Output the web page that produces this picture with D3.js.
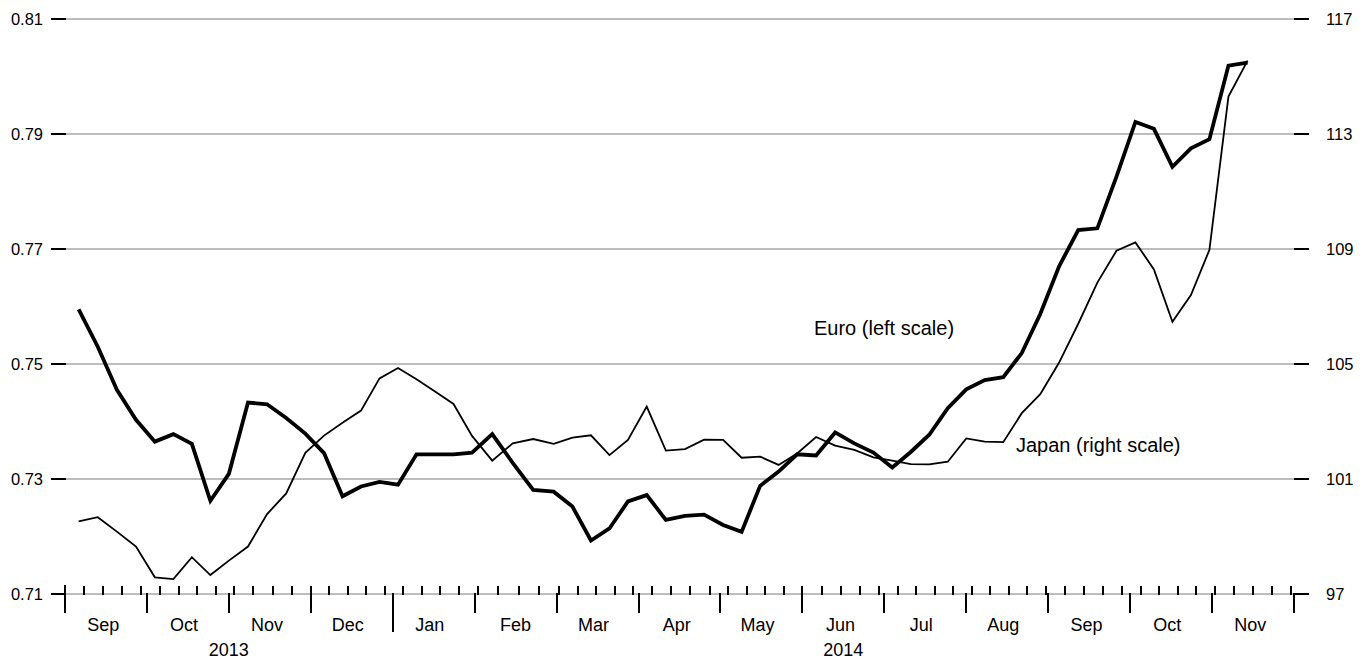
<!DOCTYPE html>
<html>
<head>
<meta charset="utf-8">
<script src="https://cdn.jsdelivr.net/npm/d3@7"></script>
<style>
  html, body { margin: 0; padding: 0; background: #fff; }
  svg { display: block; font-family: "Liberation Sans", Arial, Helvetica, sans-serif; }
</style>
</head>
<body>
<svg id="chart" width="1372" height="660"></svg>
<script>
// ---- data (weekly, Fridays) ----
const firstWeek = new Date(2013, 8, 6);
const lastWeek = new Date(2014, 10, 14);
const euroValues = [
  0.7595, 0.7530, 0.7455, 0.7403, 0.7365, 0.7378, 0.7361, 0.7262, 0.7309, 0.7433,
  0.7430, 0.7406, 0.7379, 0.7345, 0.7270, 0.7287, 0.7295, 0.7290, 0.7343, 0.7343,
  0.7343, 0.7346, 0.7378, 0.7328, 0.7281, 0.7278, 0.7252, 0.7193, 0.7214, 0.7261,
  0.7272, 0.7229, 0.7236, 0.7238, 0.7220, 0.7208, 0.7288, 0.7313, 0.7343, 0.7341,
  0.7381, 0.7362, 0.7346, 0.7320, 0.7347, 0.7377, 0.7423, 0.7456, 0.7472, 0.7477,
  0.7519, 0.7587, 0.7670, 0.7733, 0.7736, 0.7826, 0.7921, 0.7909, 0.7843, 0.7875,
  0.7891, 0.8019, 0.8024
];
const japanValues = [
  99.53, 99.67, 99.17, 98.65, 97.58, 97.52, 98.28, 97.66, 98.16, 98.65,
  99.78, 100.50, 101.91, 102.51, 102.96, 103.38, 104.50, 104.86, 104.47, 104.04,
  103.61, 102.50, 101.64, 102.24, 102.39, 102.22, 102.44, 102.52, 101.83, 102.36,
  103.52, 101.99, 102.04, 102.37, 102.36, 101.74, 101.78, 101.49, 101.89, 102.46,
  102.16, 102.01, 101.75, 101.64, 101.52, 101.51, 101.60, 102.41, 102.30, 102.28,
  103.29, 103.95, 105.05, 106.40, 107.83, 108.94, 109.23, 108.29, 106.47, 107.40,
  108.97, 114.30, 115.55
];
const leftTicks = [0.71, 0.73, 0.75, 0.77, 0.79, 0.81];
const rightTicks = [97, 101, 105, 109, 113, 117];
const leftTickLabels = ["0.71", "0.73", "0.75", "0.77", "0.79", "0.81"];
const rightTickLabels = ["97", "101", "105", "109", "113", "117"];
const monthNames = ["Jan","Feb","Mar","Apr","May","Jun","Jul","Aug","Sep","Oct","Nov","Dec"];
const yearLabels = ["2013", "2014"];
const axisStart = new Date(2013, 8, 1);
const axisEnd = new Date(2014, 11, 1);
const seriesLabels = ["Euro (left scale)", "Japan (right scale)"];

// ---- layout ----
const W = 1372, H = 660;
const plotLeft = 65, plotRight = 1294, plotTop = 19, plotBottom = 594;

const svg = d3.select("#chart");

const weeks = d3.timeFriday.range(firstWeek, d3.timeDay.offset(lastWeek, 1));
const monthStarts = d3.timeMonth.range(axisStart, d3.timeDay.offset(axisEnd, 1));

// equal-width months (polylinear time scale)
const x = d3.scaleTime()
  .domain(monthStarts)
  .range(monthStarts.map((d, i) => plotLeft + i * (plotRight - plotLeft) / (monthStarts.length - 1)));

const yL = d3.scaleLinear().domain([0.71, 0.81]).range([plotBottom, plotTop]);
const yR = d3.scaleLinear().domain([97, 117]).range([plotBottom, plotTop]);

// gridlines
svg.append("g").selectAll("line").data(leftTicks).join("line")
  .attr("x1", plotLeft + 1).attr("x2", plotRight)
  .attr("y1", d => yL(d)).attr("y2", d => yL(d))
  .attr("stroke", "#bdbdbd").attr("stroke-width", 2)
  .attr("shape-rendering", "crispEdges");

// left axis ticks + labels
const gl = svg.append("g");
gl.selectAll("line").data(leftTicks).join("line")
  .attr("x1", plotLeft - 14).attr("x2", plotLeft + 1)
  .attr("y1", d => yL(d)).attr("y2", d => yL(d))
  .attr("stroke", "#000").attr("stroke-width", 2)
  .attr("shape-rendering", "crispEdges");
gl.selectAll("text").data(leftTicks).join("text")
  .attr("x", plotLeft - 22).attr("y", d => yL(d)).attr("dy", "0.36em")
  .attr("text-anchor", "end").attr("font-size", 16.5)
  .text((d, i) => leftTickLabels[i]);

// right axis ticks + labels
const gr = svg.append("g");
gr.selectAll("line").data(rightTicks).join("line")
  .attr("x1", plotRight).attr("x2", plotRight + 15)
  .attr("y1", d => yR(d)).attr("y2", d => yR(d))
  .attr("stroke", "#000").attr("stroke-width", 2)
  .attr("shape-rendering", "crispEdges");
gr.selectAll("text").data(rightTicks).join("text")
  .attr("x", plotRight + 32).attr("y", d => yR(d)).attr("dy", "0.36em")
  .attr("text-anchor", "start").attr("font-size", 16.5)
  .text((d, i) => rightTickLabels[i]);

// x axis: weekly minor ticks (Sundays)
const sundays = d3.timeSunday.range(axisStart, axisEnd);
svg.append("g").selectAll("line").data(sundays).join("line")
  .attr("x1", d => x(d)).attr("x2", d => x(d))
  .attr("y1", plotBottom + 1).attr("y2", plotBottom - 8)
  .attr("stroke", "#000").attr("stroke-width", 2)
  .attr("shape-rendering", "crispEdges");

// month ticks
svg.append("g").selectAll("line").data(monthStarts).join("line")
  .attr("x1", d => x(d)).attr("x2", d => x(d))
  .attr("y1", plotBottom - 1)
  .attr("y2", d => (d.getMonth() === 0 ? 632 : 613))
  .attr("stroke", "#000").attr("stroke-width", 2)
  .attr("shape-rendering", "crispEdges");
svg.append("line")
  .attr("x1", x(axisStart)).attr("x2", x(axisStart))
  .attr("y1", plotBottom - 9).attr("y2", plotBottom)
  .attr("stroke", "#000").attr("stroke-width", 2)
  .attr("shape-rendering", "crispEdges");

// month labels at the 15th
const monthMid = monthStarts.slice(0, -1).map(d => new Date(d.getFullYear(), d.getMonth(), 15));
svg.append("g").selectAll("text").data(monthMid).join("text")
  .attr("x", d => x(d)).attr("y", 631)
  .attr("text-anchor", "middle").attr("font-size", 18)
  .text(d => monthNames[d.getMonth()]);

// year labels
const yearBreak = new Date(2014, 0, 1);
const yearSpans = [[axisStart, yearBreak], [yearBreak, axisEnd]];
svg.append("g").selectAll("text").data(yearSpans).join("text")
  .attr("x", d => (x(d[0]) + x(d[1])) / 2).attr("y", 656)
  .attr("text-anchor", "middle").attr("font-size", 18)
  .text((d, i) => yearLabels[i]);

// lines
const japanLine = d3.line().x((d, i) => x(weeks[i])).y(d => yR(d));
const euroLine = d3.line().x((d, i) => x(weeks[i])).y(d => yL(d));

svg.append("path").datum(japanValues)
  .attr("d", japanLine).attr("fill", "none")
  .attr("stroke", "#000").attr("stroke-width", 1.8);
svg.append("path").datum(euroValues)
  .attr("d", euroLine).attr("fill", "none")
  .attr("stroke", "#000").attr("stroke-width", 3.8);

// series labels
svg.append("text").attr("x", 814).attr("y", 335).attr("font-size", 20).text(seriesLabels[0]);
svg.append("text").attr("x", 1016).attr("y", 452).attr("font-size", 20).text(seriesLabels[1]);
</script>
</body>
</html>
